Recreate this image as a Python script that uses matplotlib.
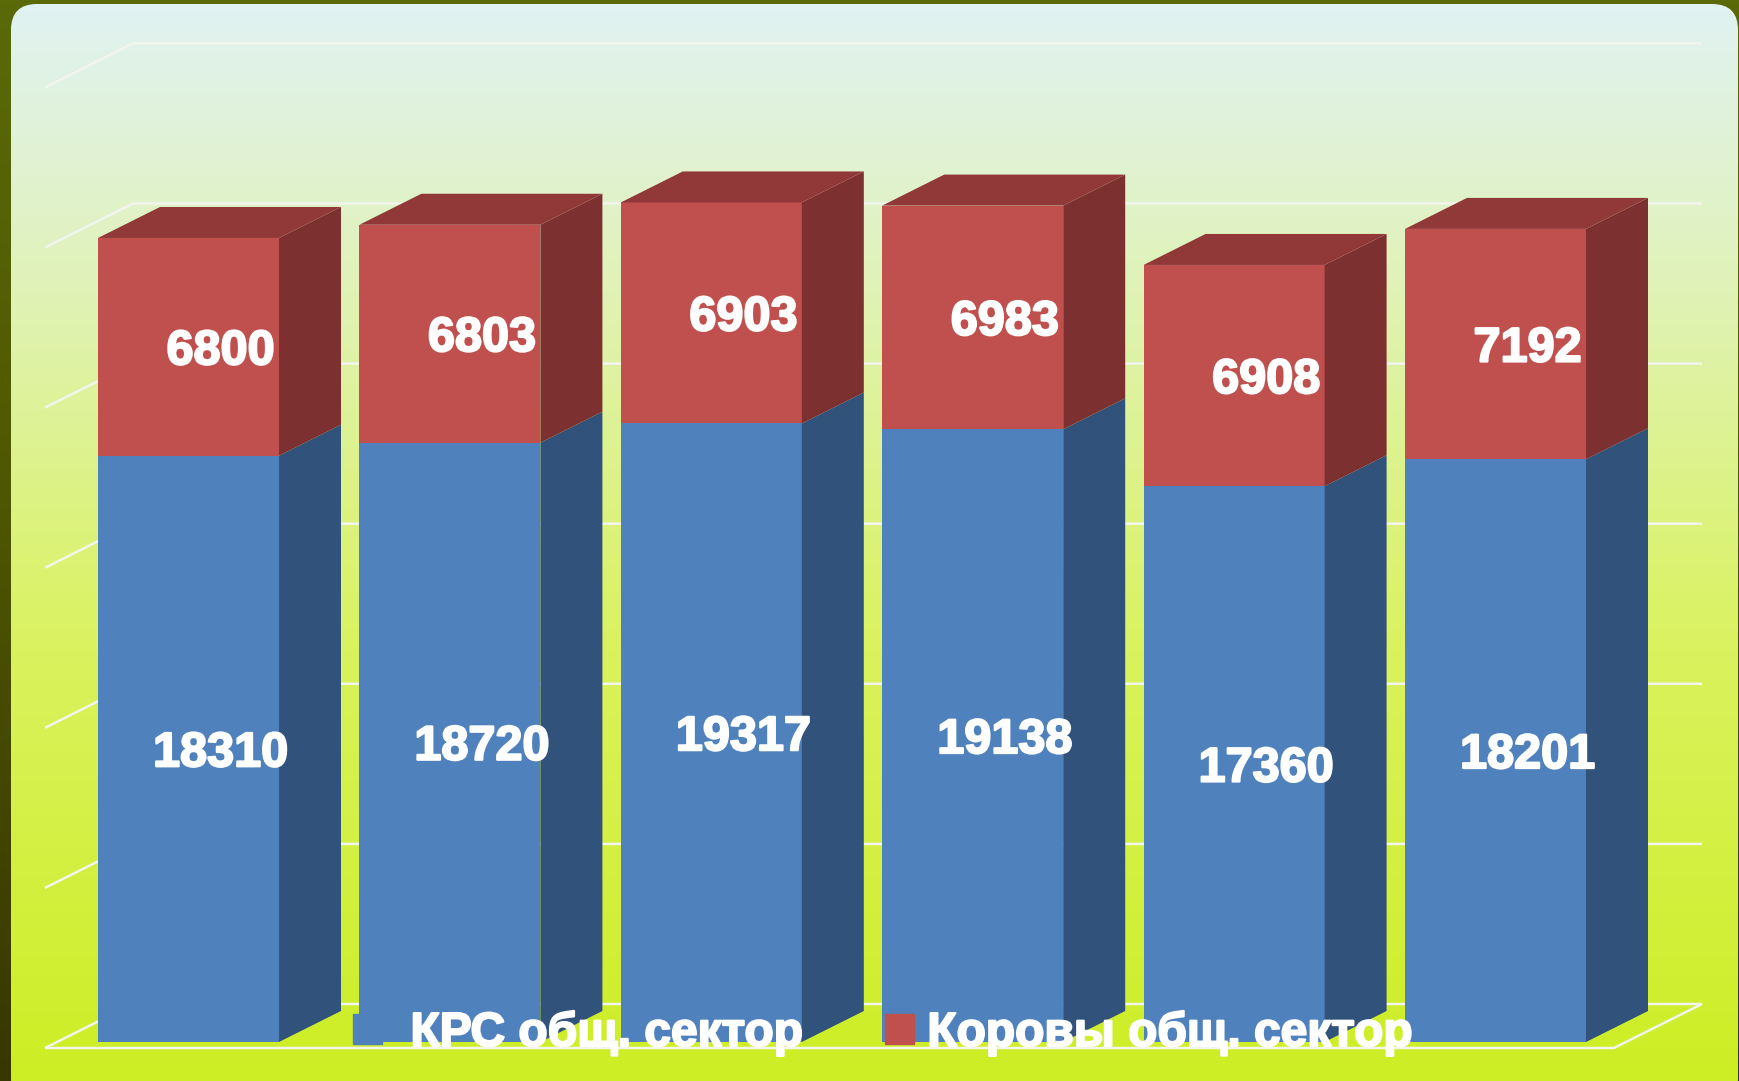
import numpy as np
import matplotlib
matplotlib.use('Agg')
import matplotlib.pyplot as plt
import matplotlib.patheffects as pe
from matplotlib.colors import LinearSegmentedColormap
from matplotlib.patches import FancyBboxPatch, Polygon, Patch

plt.rcParams['font.family'] = ['Liberation Sans', 'DejaVu Sans']

# данные
krs = [18310, 18720, 19317, 19138, 17360, 18201]
cows = [6800, 6803, 6903, 6983, 6908, 7192]
series_names = ['КРС общ. сектор', 'Коровы общ. сектор']
grid_values = [0, 5000, 10000, 15000, 20000, 25000, 30000]

W, H = 1739, 1081
pitch = 261.4          # шаг столбцов, px
px_per_unit = 0.03202  # px на единицу значения
x0_px, y0_px = 188.5, 1042

fig = plt.figure(figsize=(W / 100, H / 100), dpi=100)
fig.patch.set_facecolor('#5a6a08')
ax = fig.add_axes([0, 0, 1, 1])
ax.set_xlim(-x0_px / pitch, (W - x0_px) / pitch)
ax.set_ylim((y0_px - H) / px_per_unit, y0_px / px_per_unit)
ax.axis('off')

def px_x(p):
    return (p - x0_px) / pitch

def px_y(p):
    return (y0_px - p) / px_per_unit

# тёмная полоса слева и фон карточки
ext = [ax.get_xlim()[0], ax.get_xlim()[1], ax.get_ylim()[0], ax.get_ylim()[1]]
side = LinearSegmentedColormap.from_list('s', [(0, '#5a6a08'), (0.4, '#505a02'), (1, '#363800')])
ax.imshow(np.linspace(0, 1, 256).reshape(-1, 1), cmap=side, extent=ext, aspect='auto', zorder=0)

bg = LinearSegmentedColormap.from_list('b', [(0, '#e1f3f3'), (0.27, '#e0f2b6'), (0.6, '#daf25e'), (1, '#cdee24')])
im = ax.imshow(np.linspace(0, 1, 256).reshape(-1, 1), cmap=bg, extent=ext, aspect='auto', zorder=1)
card = FancyBboxPatch((11, 4), 1727, 1100, boxstyle='round,pad=0,rounding_size=26',
                      transform=matplotlib.transforms.Affine2D().scale(1, -1).translate(0, H), fc='none', ec='none')
ax.add_patch(card)
im.set_clip_path(card)

# глубина объёма
dx = 62 / pitch
dy = 31 / px_per_unit
back_x = px_x(133)
back_r = px_x(1702)
left_x = px_x(45)
floor_y = px_y(1004)
wall_dy = floor_y - px_y(1048)

# линии сетки на стенках
grid_c = '#f2f5ee'
for v in grid_values:
    ax.plot([left_x, back_x, back_r], [v + floor_y - wall_dy, v + floor_y, v + floor_y],
            color=grid_c, lw=1.8, zorder=2, solid_joinstyle='miter', solid_capstyle='butt')
ax.plot([back_r, px_x(1614), left_x], [floor_y, floor_y - wall_dy, floor_y - wall_dy],
        color=grid_c, lw=1.8, zorder=2, solid_capstyle='butt')

# столбцы
x = np.arange(len(krs))
width = 181 / pitch
blue, blue_side = '#4f81bd', '#31527a'
red, red_side, red_top = '#c0504d', '#7c302f', '#913939'
krs_bars = ax.bar(x, krs, width, color=blue, linewidth=0, zorder=3)
cow_bars = ax.bar(x, cows, width, bottom=krs, color=red, linewidth=0, zorder=3)

for i in x:
    r = i + width / 2
    l = i - width / 2
    k, t = krs[i], krs[i] + cows[i]
    ax.add_patch(Polygon([(r, 0), (r + dx, dy), (r + dx, k + dy), (r, k)], fc=blue_side, ec='none', zorder=3))
    ax.add_patch(Polygon([(r, k), (r + dx, k + dy), (r + dx, t + dy), (r, t)], fc=red_side, ec='none', zorder=3))
    ax.add_patch(Polygon([(l, t), (l + dx, t + dy), (r + dx, t + dy), (r, t)], fc=red_top, ec='none', zorder=3))

# подписи значений
stroke = [pe.withStroke(linewidth=1.5, foreground='white')]
off_x = 32 / pitch
off_y = -5 / px_per_unit
for i in x:
    ax.text(i + off_x, krs[i] / 2 + off_y, str(krs[i]), ha='center', va='center', color='white',
            fontsize=35, fontweight='bold', path_effects=stroke, zorder=5)
    ax.text(i + off_x, krs[i] + cows[i] / 2 + off_y, str(cows[i]), ha='center', va='center', color='white',
            fontsize=35, fontweight='bold', path_effects=stroke, zorder=5)

# легенда
leg = ax.legend([Patch(color=blue), Patch(color=red)], series_names, ncol=2, frameon=False,
                loc='lower left', bbox_to_anchor=(353 / W, (H - 1056) / H),
                prop={'size': 34.5, 'weight': 'bold'}, handlelength=0.6, handleheight=0.6,
                handletextpad=0.6, columnspacing=1.4, labelcolor='white', borderpad=0, borderaxespad=0)
leg.set_zorder(6)
for t in leg.get_texts():
    t.set_path_effects(stroke)
# красный квадрат в оригинале стоит ближе к тексту
red_handle = leg.legend_handles[1]
red_handle.set_x(red_handle.get_x() + 11)

fig.savefig('out.png', dpi=100)
